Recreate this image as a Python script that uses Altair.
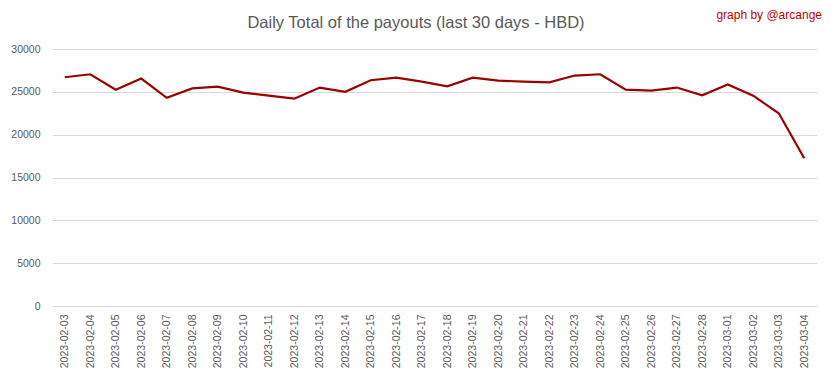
import altair as alt
import pandas as pd

title_text = "Daily Total of the payouts (last 30 days - HBD)"
credit_text = "graph by @arcange"

dates = [
    "2023-02-03", "2023-02-04", "2023-02-05", "2023-02-06", "2023-02-07",
    "2023-02-08", "2023-02-09", "2023-02-10", "2023-02-11", "2023-02-12",
    "2023-02-13", "2023-02-14", "2023-02-15", "2023-02-16", "2023-02-17",
    "2023-02-18", "2023-02-19", "2023-02-20", "2023-02-21", "2023-02-22",
    "2023-02-23", "2023-02-24", "2023-02-25", "2023-02-26", "2023-02-27",
    "2023-02-28", "2023-03-01", "2023-03-02", "2023-03-03", "2023-03-04",
]
payouts = [
    26700, 27050, 25250, 26550, 24300,
    25400, 25600, 24900, 24550, 24200,
    25500, 25000, 26350, 26650, 26200,
    25650, 26650, 26300, 26200, 26100,
    26900, 27050, 25250, 25150, 25500,
    24600, 25850, 24550, 22500, 17250,
]
y_ticks = [0, 5000, 10000, 15000, 20000, 25000, 30000]

df = pd.DataFrame({"date": dates, "payout": payouts})

FONT = "Liberation Sans"
LABEL_COLOR = "#595959"

line = alt.Chart(df).mark_line(color="#990000", strokeWidth=2.2).encode(
    x=alt.X(
        "date:N",
        sort=None,
        scale=alt.Scale(padding=0.5),
        axis=alt.Axis(
            title=None, labelAngle=270, labelPadding=8, ticks=False, tickSize=0,
            domain=False, grid=False, labelFont=FONT, labelFontSize=10.5,
            labelColor=LABEL_COLOR, labelOverlap=False,
        ),
    ),
    y=alt.Y(
        "payout:Q",
        scale=alt.Scale(domain=[0, 30000], nice=False),
        axis=alt.Axis(
            title=None, values=y_ticks, format="d", ticks=False, tickSize=0,
            domain=False, gridColor="#d9d9d9", gridWidth=1, labelPadding=12,
            labelFont=FONT, labelFontSize=10.5, labelColor=LABEL_COLOR,
        ),
    ),
)

title = alt.Chart(pd.DataFrame({"t": [title_text]})).mark_text(
    font=FONT, fontSize=16.5, color=LABEL_COLOR, align="center", baseline="middle"
).encode(text="t:N", x=alt.value(364), y=alt.value(-26))

credit = alt.Chart(pd.DataFrame({"t": [credit_text]})).mark_text(
    font=FONT, fontSize=12, color="#c00000", align="right", baseline="middle"
).encode(text="t:N", x=alt.value(770), y=alt.value(-34))

chart = alt.layer(line, title, credit).properties(
    width=765,
    height=257,
    autosize=alt.AutoSizeParams(type="none"),
    padding={"left": 44, "top": 41, "right": 8, "bottom": 65},
    background="white",
).configure_view(stroke=None)

chart.save("out.html", embed_options={"renderer": "svg", "actions": False})
